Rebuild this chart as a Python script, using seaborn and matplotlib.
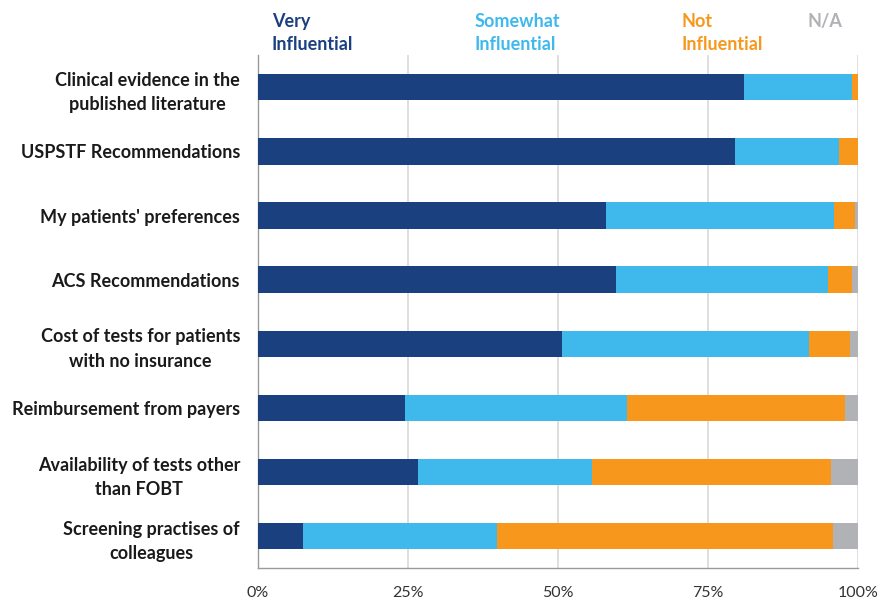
import numpy as np
import pandas as pd
from matplotlib import pyplot as plt
from matplotlib.ticker import FixedLocator
import seaborn as sns

categories = ["Clinical evidence in the\npublished literature",
              "USPSTF Recommendations",
              "My patients' preferences",
              "ACS Recommendations",
              "Cost of tests for patients\nwith no insurance",
              "Reimbursement from payers",
              "Availability of tests other\nthan FOBT",
              "Screening practises of\ncolleagues"]
very = [81.0, 79.5, 58.0, 59.7, 50.7, 24.5, 26.7, 7.5]
somewhat = [18.0, 17.3, 38.0, 35.3, 41.1, 37.0, 29.0, 32.3]
not_infl = [1.0, 3.2, 3.5, 4.0, 6.9, 36.3, 39.8, 56.0]
na = [0.0, 0.0, 0.5, 1.0, 1.3, 2.2, 4.5, 4.2]

series_names = ["Very\nInfluential", "Somewhat\nInfluential", "Not\nInfluential", "N/A"]
colors = ["#1A4080", "#3FB9EC", "#F7981D", "#B1B2B6"]
xticks = [0, 25, 50, 75, 100]
xticklabels = ["0%", "25%", "50%", "75%", "100%"]

df = pd.DataFrame({"cat": categories, "very": very, "somewhat": somewhat,
                   "not": not_infl, "na": na})
# cumulative ends, drawn back to front
df["c1"] = df["very"]
df["c2"] = df["c1"] + df["somewhat"]
df["c3"] = df["c2"] + df["not"]
df["c4"] = df["c3"] + df["na"]

sns.set_style("white")
plt.rcParams["font.family"] = ["Lato", "DejaVu Sans"]

fig = plt.figure(figsize=(8.87, 6), dpi=100)
ax = fig.add_axes([0.291, 0.053, 0.676, 0.855])

for col, c in zip(["c4", "c3", "c2", "c1"], colors[::-1]):
    sns.barplot(data=df, x=col, y="cat", orient="h", color=c, width=0.41,
                ax=ax, saturation=1, linewidth=0, zorder=3)

ax.set_xlim(0, 100)
ax.set_ylim(7.5, -0.5)
ax.set_xlabel("")
ax.set_ylabel("")
ax.set_xticks(xticks)
ax.set_xticklabels(xticklabels, fontsize=11.5, color="#333333")
ax.tick_params(axis="x", length=5, color="#9A9A9A", width=1, pad=8)
ax.set_yticks(range(len(categories)))
ax.set_yticklabels(categories, fontsize=13, fontweight="bold", color="#1a1a1a",
                   ha="right", multialignment="center", linespacing=1.55)
ax.tick_params(axis="y", which="major", length=0, pad=13)
ax.yaxis.set_minor_locator(FixedLocator(np.arange(-0.5, 8.0, 1.0)))
ax.tick_params(axis="y", which="minor", length=5, color="#9A9A9A", width=1)
ax.grid(axis="x", color="#D9D9D9", linewidth=1.2, zorder=0)
ax.set_axisbelow(True)
for s in ["top", "right"]:
    ax.spines[s].set_visible(False)
for s in ["left", "bottom"]:
    ax.spines[s].set_color("#9A9A9A")
    ax.spines[s].set_linewidth(1)

# legend as coloured labels above the plot
legend_x = [272, 475, 682, 808]
for name, c, lx in zip(series_names, colors, legend_x):
    fig.text(lx / 887, 1 - 13 / 600, name, color=c, fontsize=13,
             fontweight="bold", va="top", ha="left", linespacing=1.45)

fig.savefig("out.png", dpi=100)
